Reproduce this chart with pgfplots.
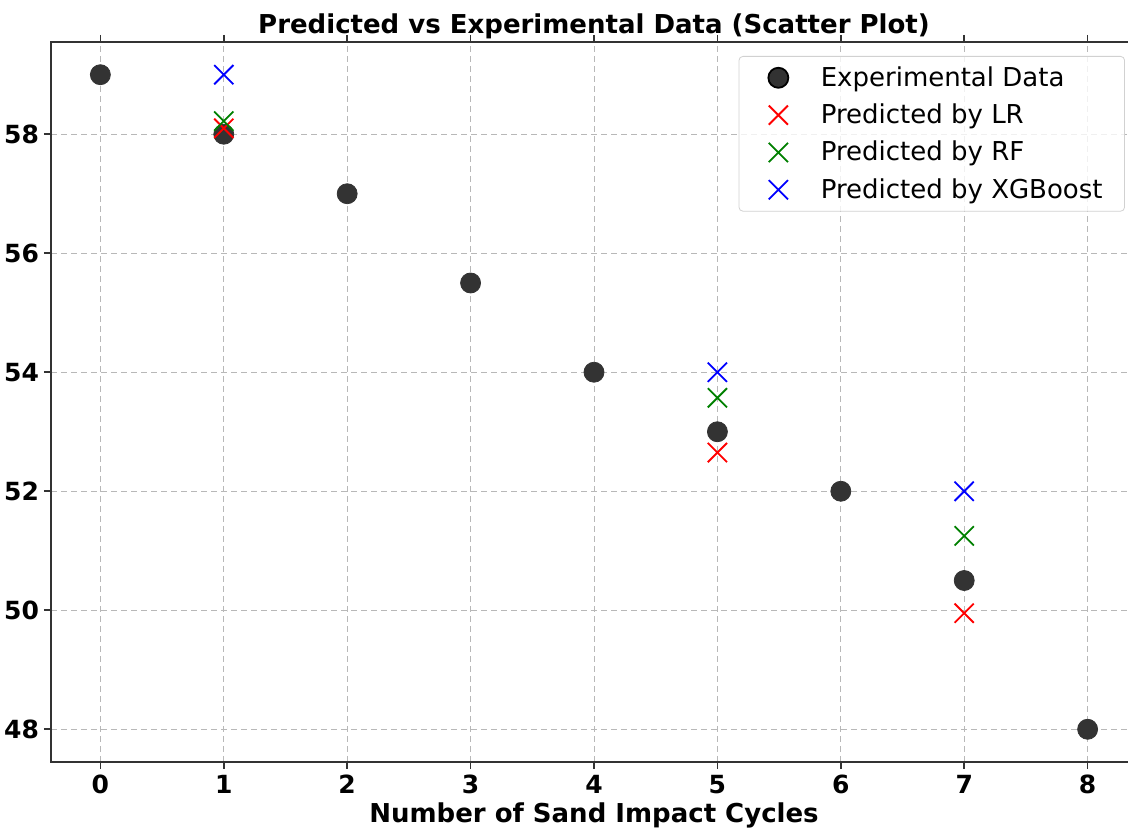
\documentclass[border=0pt]{standalone}
\usepackage{pgfplots}
\pgfplotsset{compat=1.18}
\usepackage{fontspec}
\setmainfont{DejaVu Sans}
\usetikzlibrary{calc}

\definecolor{expgray}{rgb}{0.2,0.2,0.2}
\definecolor{rfgreen}{rgb}{0,0.5,0}

% legend images 21pt wide, with the mark in the middle
\pgfplotsset{
  wide mark legend/.style={
    legend image code/.code={%
      \path (0pt,0pt) (21pt,0pt);
      \draw[mark repeat=2, mark phase=2, ##1]
        plot coordinates {(0pt,0pt) (10.5pt,0pt) (21pt,0pt)};}
  }
}

\pgfplotstableread{
x y
0 59
1 58
2 57
3 55.5
4 54
5 53
6 52
7 50.5
8 48
}\experimental

\pgfplotstableread{
x y
1 58.10
5 52.65
7 49.95
}\predLR

\pgfplotstableread{
x y
1 58.22
5 53.57
7 51.25
}\predRF

\pgfplotstableread{
x y
1 59
5 54
7 52
}\predXGB

\begin{document}
\begin{tikzpicture}
\begin{axis}[
  scale only axis,
  width=543pt, height=360pt,
  xmin=-0.4, xmax=8.4,
  ymin=47.45, ymax=59.55,
  xtick={0,...,8},
  ytick={48,50,...,58},
  tick align=outside,
  major tick length=3.5pt,
  tick style={line width=0.8pt, color=black!80},
  axis line style={line width=0.8pt, color=black!80},
  /pgf/number format/assume math mode=true,
  ticklabel style={font=\bfseries\fontsize{12.5}{15}\selectfont},
  xticklabel style={yshift=0.5pt},
  yticklabel style={xshift=1pt},
  grid=major,
  grid style={densely dashed, color=black!28, line width=0.45pt},
  title={\bfseries Predicted vs Experimental Data (Scatter Plot)},
  title style={font=\fontsize{13}{15}\selectfont, yshift=-8pt},
  xlabel={\bfseries Number of Sand Impact Cycles},
  xlabel style={font=\fontsize{13}{15}\selectfont, yshift=2.5pt},
  legend cell align=left,
  legend image post style={mark options={line width=0.9pt}},
  legend style={
    at={(rel axis cs:1,1)}, anchor=north east,
    xshift=-6pt, yshift=-7pt,
    draw=black!18, rounded corners=2pt, fill=white, fill opacity=0.8, text opacity=1,
    font=\fontsize{13}{15}\selectfont,
    inner xsep=9pt, inner ysep=3pt,
    row sep=3.3pt,
    /tikz/every even column/.append style={column sep=4pt},
    /tikz/every odd column/.append style={column sep=8.5pt},
  },
]
\addplot[only marks, wide mark legend, mark=*, mark size=5pt,
  mark options={draw=expgray, fill=expgray, line width=0.4pt}]
  table[x=x, y=y] {\experimental};
\addlegendentry{Experimental Data}

\addplot[only marks, wide mark legend, mark=x, mark size=6.8pt, red,
  mark options={line width=0.9pt}]
  table[x=x, y=y] {\predLR};
\addlegendentry{Predicted by LR}

\addplot[only marks, wide mark legend, mark=x, mark size=6.8pt, rfgreen,
  mark options={line width=0.9pt}]
  table[x=x, y=y] {\predRF};
\addlegendentry{Predicted by RF}

\addplot[only marks, wide mark legend, mark=x, mark size=6.8pt, blue,
  mark options={line width=0.9pt}]
  table[x=x, y=y] {\predXGB};
\addlegendentry{Predicted by XGBoost}

\coordinate (sw) at (rel axis cs:0,0);
\end{axis}
\pgfresetboundingbox
\path[use as bounding box] ($(sw)+(-25.5pt,-33pt)$) rectangle ++(564pt,414pt);
\end{tikzpicture}
\end{document}
